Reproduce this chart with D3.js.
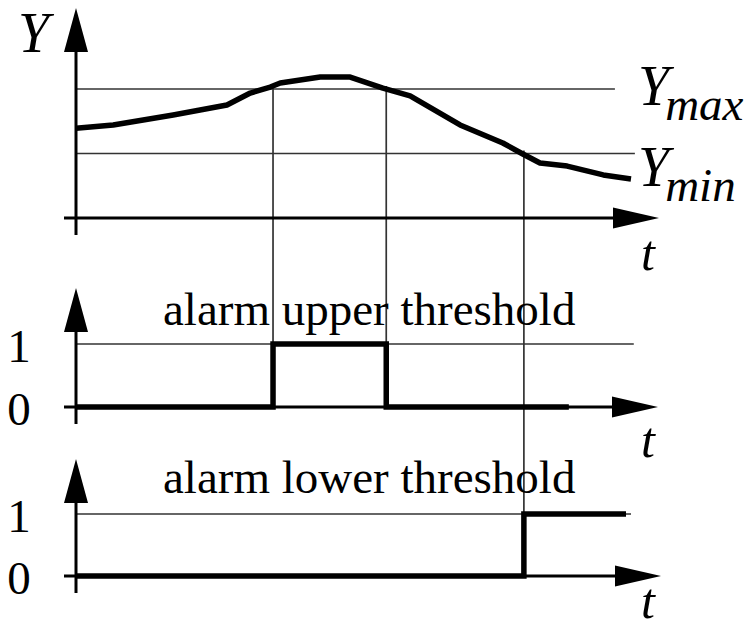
<!DOCTYPE html>
<html>
<head>
<meta charset="utf-8">
<script src="https://cdn.jsdelivr.net/npm/d3@7"></script>
<style>
  html, body { margin: 0; padding: 0; background: #fff; }
  svg { display: block; }
  text { font-family: "Liberation Serif", "Times New Roman", serif; fill: #000; }
</style>
</head>
<body>
<svg id="chart" width="752" height="629"></svg>
<script>
// Measured process variable Y over time t (time in 0..100 units)
const curveT = [0, 6.7, 17.5, 27.2, 31.4, 35.0, 36.8, 44.0, 49.4, 55.3, 60.2, 69.2, 76.9, 80.5, 83.6, 88.5, 95.0, 100];
const curveY = [5.56, 5.77, 6.39, 7.01, 7.75, 8.12, 8.37, 8.74, 8.74, 8.06, 7.57, 5.77, 4.65, 3.97, 3.41, 3.22, 2.67, 2.42];

// Alarm thresholds
const yMax = 8;
const yMin = 4;

// Alarm signals: value holds from each switch time until the next one
const upperAlarmT = [0, 35.5, 55.9, 88.8];
const upperAlarmV = [0, 1, 0, 0];
const lowerAlarmT = [0, 80.7, 99.1];
const lowerAlarmV = [0, 1, 1];

// Times where Y crosses a threshold and an alarm switches
const crossingT = [35.5, 55.9, 80.7];
const crossingLevel = [yMax, yMax, yMin];

const alarmTicks = [0, 1];
const panelTitles = ["alarm upper threshold", "alarm lower threshold"];

const svg = d3.select("#chart");

const x = d3.scaleLinear().domain([0, 100]).range([76, 631]);
const yTop = d3.scaleLinear().domain([0, 8]).range([218, 89]);
const yUp = d3.scaleLinear().domain([0, 1]).range([407, 344]);
const yLow = d3.scaleLinear().domain([0, 1]).range([576, 514]);

const thin = { stroke: "#333", width: 1.7 };
const serif = '"Liberation Serif", "Times New Roman", serif';

// --- thin guide lines -------------------------------------------------
function hGuide(scale, v, tEnd) {
  svg.append("line")
    .attr("x1", x(0)).attr("x2", x(tEnd))
    .attr("y1", scale(v)).attr("y2", scale(v))
    .attr("stroke", thin.stroke).attr("stroke-width", thin.width);
}
hGuide(yTop, yMax, 97.1);
hGuide(yTop, yMin, 100.7);
hGuide(yUp, 1, 100.5);
hGuide(yLow, 1, 100);

// vertical drop lines from the threshold crossings to the alarm panels
crossingT.forEach((ct, i) => {
  const bottom = i < 2 ? yUp(0) : yLow(0);
  svg.append("line")
    .attr("x1", x(ct)).attr("x2", x(ct))
    .attr("y1", yTop(crossingLevel[i]) - 3).attr("y2", bottom)
    .attr("stroke", thin.stroke).attr("stroke-width", thin.width);
});

// --- arrow axes ---------------------------------------------------------
function arrowAxes(y0, tipY, tipX) {
  const ax = x(0);
  // vertical axis
  svg.append("line")
    .attr("x1", ax).attr("x2", ax)
    .attr("y1", y0 + 17).attr("y2", tipY + 30)
    .attr("stroke", "#000").attr("stroke-width", 3);
  svg.append("polygon")
    .attr("points", [[ax, tipY], [ax - 12, tipY + 44], [ax + 12, tipY + 44]].join(" "))
    .attr("fill", "#000");
  // horizontal axis
  svg.append("line")
    .attr("x1", ax - 12).attr("x2", tipX - 30)
    .attr("y1", y0).attr("y2", y0)
    .attr("stroke", "#000").attr("stroke-width", 3);
  svg.append("polygon")
    .attr("points", [[tipX, y0], [tipX - 46, y0 - 10.5], [tipX - 46, y0 + 10.5]].join(" "))
    .attr("fill", "#000");
}
arrowAxes(yTop(0), 8, 659);
arrowAxes(yUp(0), 288, 658);
arrowAxes(yLow(0), 459, 661);

// 0 / 1 tick labels on the alarm axes
[yUp, yLow].forEach(scale => {
  const g = svg.append("g")
    .attr("transform", `translate(${x(0)},0)`)
    .call(d3.axisLeft(scale).tickValues(alarmTicks).tickSize(0).tickFormat(d3.format("d")));
  g.select(".domain").remove();
  g.attr("font-family", serif).attr("font-size", 47);
  g.selectAll("text")
    .attr("x", -57)
    .attr("dy", "0.37em")
    .attr("text-anchor", "middle")
    .attr("fill", "#000");
});

// --- data marks ---------------------------------------------------------
const pts = curveT.map((tv, i) => [tv, curveY[i]]);
svg.append("path")
  .datum(pts)
  .attr("d", d3.line().x(d => x(d[0])).y(d => yTop(d[1])).curve(d3.curveLinear))
  .attr("fill", "none").attr("stroke", "#000").attr("stroke-width", 5.5)
  .attr("stroke-linejoin", "round");

function stepPath(ts, vs, scale) {
  const data = ts.map((tv, i) => [tv, vs[i]]);
  svg.append("path")
    .datum(data)
    .attr("d", d3.line().x(d => x(d[0])).y(d => scale(d[1])).curve(d3.curveStepAfter))
    .attr("fill", "none").attr("stroke", "#000").attr("stroke-width", 5.5)
    .attr("stroke-linejoin", "miter");
}
stepPath(upperAlarmT, upperAlarmV, yUp);
stepPath(lowerAlarmT, lowerAlarmV, yLow);

// --- text -----------------------------------------------------------------
svg.append("text").attr("x", 18).attr("y", 52)
  .attr("font-size", 56).attr("font-style", "italic").text("Y");

function subLabel(xPos, yBase, sub) {
  const tx = svg.append("text").attr("x", xPos).attr("y", yBase)
    .attr("font-size", 56).attr("font-style", "italic");
  tx.append("tspan").text("Y");
  tx.append("tspan").attr("dx", -4).attr("dy", 15).attr("font-size", 47).text(sub);
}
subLabel(638, yTop(yMax) + 16, "max");
subLabel(638, yTop(yMin) + 32, "min");

// time-axis labels; the lowest one sits just inside the bottom edge
[yTop(0) + 52, yUp(0) + 50, yLow(0) + 42].forEach(yb => {
  svg.append("text").attr("x", 641).attr("y", yb)
    .attr("font-size", 50).attr("font-style", "italic").text("t");
});

svg.append("text").attr("x", 163).attr("y", yUp(1) - 19)
  .attr("font-size", 47).text(panelTitles[0]);
svg.append("text").attr("x", 163).attr("y", yLow(1) - 21)
  .attr("font-size", 47).text(panelTitles[1]);
</script>
</body>
</html>
